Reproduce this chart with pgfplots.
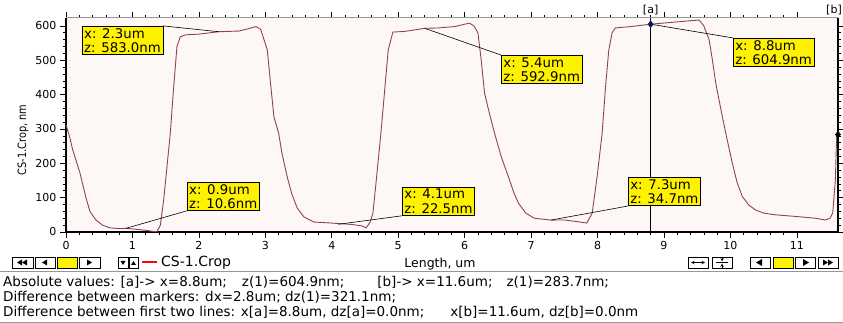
\documentclass[border=0pt]{standalone}
\usepackage{fontspec}
\setmainfont{DejaVu Sans}
\usepackage{pgfplots}
\pgfplotsset{compat=1.18}
\definecolor{curve}{RGB}{145,65,85}
\definecolor{bgp}{RGB}{253,248,245}
\definecolor{marknavy}{RGB}{20,20,110}
\definecolor{sep}{RGB}{150,150,150}
\tikzset{
  ann/.style={draw=black, line width=0.6pt, fill=yellow, align=left, inner xsep=2pt, inner ysep=2pt,
    font=\fontsize{13.3}{14.3}\selectfont, anchor=north west},
  btn/.style={draw=black, line width=0.8pt, fill=white},
  ui/.style={font=\fontsize{13.5}{15}\selectfont, inner sep=0pt}
}
\begin{document}
\begin{tikzpicture}[x=1pt,y=1pt]
\useasboundingbox (0,0) rectangle (843,323);
\fill[white] (0,0) rectangle (843,323);
\begin{axis}[
  at={(66pt,91pt)}, anchor=south west,
  scale only axis, width=772pt, height=214pt,
  xmin=0, xmax=11.62, ymin=0, ymax=623,
  axis background/.style={fill=bgp},
  axis line style={draw=none},
  xtick={0,1,...,11}, ytick={0,100,...,600},
  minor x tick num=4, minor y tick num=4,
  tick align=outside,
  major tick length=6pt, minor tick length=3pt,
  tick style={black, line width=0.6pt},
  ticklabel style={font=\fontsize{11}{12}\selectfont},
  /pgf/number format/assume math mode=true,
  clip=false,
]
\draw[sep, line width=1pt] (rel axis cs:0,1) -- (rel axis cs:1,1);
\draw[black, line width=1.8pt] (rel axis cs:0,1) -- (rel axis cs:0,0) -- (rel axis cs:1,0) -- (rel axis cs:1,1);
\addplot[curve, line width=0.9pt] coordinates {
(0.00,312) (0.05,280) (0.10,240) (0.21,172) (0.30,100) (0.36,60) (0.45,35) (0.55,20)
(0.66,12) (0.80,10) (0.90,10.6) (1.00,9) (1.10,7) (1.20,5) (1.30,2) (1.37,1)
(1.42,20) (1.47,93) (1.52,190) (1.57,288) (1.62,420) (1.67,540) (1.72,568) (1.80,574)
(2.00,576) (2.30,583) (2.60,585) (2.75,592) (2.86,598) (2.93,590) (2.98,560) (3.03,530)
(3.08,430) (3.13,335) (3.20,288) (3.25,230) (3.33,160) (3.40,110) (3.48,70) (3.58,44)
(3.73,29) (4.00,26) (4.30,22) (4.45,18) (4.52,12) (4.58,30) (4.62,55) (4.68,170)
(4.74,288) (4.80,420) (4.85,530) (4.92,582) (5.10,584) (5.40,592.9) (5.60,594) (5.85,598)
(6.07,608) (6.14,600) (6.20,580) (6.25,500) (6.30,404) (6.38,340) (6.45,288) (6.55,220)
(6.66,160) (6.74,115) (6.81,84) (6.92,55) (7.05,40) (7.30,34.7) (7.50,35) (7.70,30)
(7.84,26) (7.92,55) (8.00,170) (8.07,288) (8.12,420) (8.17,530) (8.22,580) (8.27,594)
(8.50,598) (8.80,604.9) (9.10,610) (9.40,615) (9.53,617) (9.60,600) (9.68,560) (9.73,500)
(9.78,433) (9.88,335) (9.95,270) (10.03,200) (10.10,145) (10.18,103) (10.28,78) (10.38,64)
(10.50,55) (10.68,50) (11.00,45) (11.28,40) (11.43,35) (11.50,40) (11.54,55) (11.58,150)
(11.60,283.7)
};
% marker a
\draw[black, line width=0.8pt] (axis cs:8.8,0) -- (axis cs:8.8,623);
\addplot[only marks, mark=diamond*, mark size=3.5pt, color=marknavy] coordinates {(8.8,604.9)};
\addplot[only marks, mark=diamond*, mark size=3.5pt, color=black] coordinates {(11.62,283.7)};
\node[font=\fontsize{11}{12}\selectfont, anchor=south] at (axis cs:8.8,623) {[a]};
\end{axis}
\node[font=\fontsize{11}{12}\selectfont, anchor=south east, inner xsep=1pt] at (843,305) {[b]};
\begin{axis}[
  at={(66pt,91pt)}, anchor=south west,
  scale only axis, width=772pt, height=214pt,
  xmin=0, xmax=11.62, ymin=0, ymax=623,
  axis lines=none, clip=false,
]
% annotations
\node[ann] (b1) at (axis cs:0.24,600) {x: 2.3um\\z: 583.0nm};
\draw[black, line width=0.6pt] (b1.north east) -- (axis cs:2.3,583);
\node[ann] (b2) at (axis cs:1.82,146) {x: 0.9um\\z: 10.6nm};
\draw[black, line width=0.6pt] (b2.south west) -- (axis cs:0.9,10.6);
\node[ann] (b3) at (axis cs:5.06,131) {x: 4.1um\\z: 22.5nm};
\draw[black, line width=0.6pt] (b3.south west) -- (axis cs:4.1,22.5);
\node[ann] (b4) at (axis cs:6.55,515) {x: 5.4um\\z: 592.9nm};
\draw[black, line width=0.6pt] (b4.north west) -- (axis cs:5.4,592.9);
\node[ann] (b5) at (axis cs:8.46,160) {x: 7.3um\\z: 34.7nm};
\draw[black, line width=0.6pt] (b5.south west) -- (axis cs:7.3,34.7);
\node[ann] (b6) at (axis cs:10.04,565) {x: 8.8um\\z: 604.9nm};
\draw[black, line width=0.6pt] (b6.north west) -- (axis cs:8.8,604.9);
\end{axis}
% y label
\node[rotate=90, xscale=0.85, font=\fontsize{11.5}{13}\selectfont] at (23,183) {CS-1.Crop, nm};
% toolbar left
\draw[btn] (12,55) rectangle (33,66);
\fill (17,60.5) -- (22,63.5) -- (22,57.5) -- cycle;
\fill (22,60.5) -- (27,63.5) -- (27,57.5) -- cycle;
\draw[btn] (35,55) rectangle (55,66);
\fill (42,60.5) -- (47,63.5) -- (47,57.5) -- cycle;
\draw[btn, fill=yellow] (57,55) rectangle (77,66);
\draw[btn] (79,55) rectangle (100,66);
\fill (92,60.5) -- (87,63.5) -- (87,57.5) -- cycle;
\draw[btn] (118,55) rectangle (128,66);
\fill (120.5,62) -- (125.5,62) -- (123,58) -- cycle;
\draw[btn] (129,55) rectangle (138,66);
\fill (131,58) -- (136,58) -- (133.5,62) -- cycle;
\draw[red, line width=2pt] (142,60.5) -- (157,60.5);
\node[ui, font=\fontsize{14}{15}\selectfont, anchor=west] at (161,60.5) {CS-1.Crop};
\node[ui, font=\fontsize{12.5}{14}\selectfont] at (440,59) {Length, um};
% toolbar right
\draw[btn] (688,55) rectangle (708,66);
\draw[line width=0.6pt, <->, >=stealth] (691,60.5) -- (705,60.5);
\draw[btn] (712,55) rectangle (732,66);
\draw[line width=0.6pt] (716,60.5) -- (728,60.5);
\draw[line width=0.6pt, ->, >=stealth] (722,66) -- (722,61.5);
\draw[line width=0.6pt, ->, >=stealth] (722,55) -- (722,59.5);
\draw[btn] (750,55) rectangle (770,66);
\fill (756,60.5) -- (762,64) -- (762,57) -- cycle;
\draw[btn, fill=yellow] (773,55) rectangle (793,66);
\draw[btn] (795,55) rectangle (815,66);
\fill (809,60.5) -- (803,64) -- (803,57) -- cycle;
\draw[btn] (818,55) rectangle (838,66);
\fill (828,60.5) -- (823,63.5) -- (823,57.5) -- cycle;
\fill (833,60.5) -- (828,63.5) -- (828,57.5) -- cycle;
% separators
\draw[sep, line width=1pt] (0,51) -- (843,51);
\draw[sep, line width=1pt] (0,0.5) -- (843,0.5);
% status lines
\node[ui, anchor=base west] at (3,36) {Absolute values: [a]-> x=8.8um;\hspace{15pt}z(1)=604.9nm;\hspace{33pt}[b]-> x=11.6um;\hspace{14pt}z(1)=283.7nm;};
\node[ui, anchor=base west] at (3,21) {Difference between markers: dx=2.8um; dz(1)=321.1nm;};
\node[ui, anchor=base west] at (3,6) {Difference between first two lines: x[a]=8.8um, dz[a]=0.0nm;\hspace{26pt}x[b]=11.6um, dz[b]=0.0nm};
\end{tikzpicture}
\end{document}
